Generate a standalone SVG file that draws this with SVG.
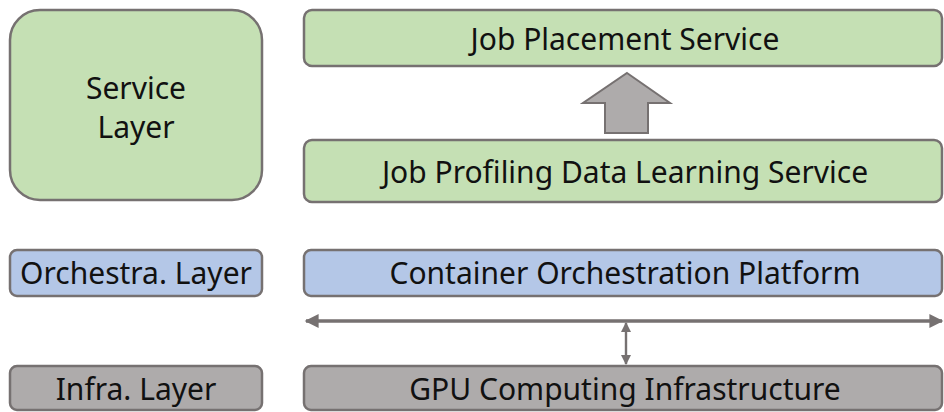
<svg xmlns="http://www.w3.org/2000/svg" width="944" height="412" viewBox="0 0 944 412">
  <defs>
    <style>
      .box { stroke: #767171; stroke-width: 2.5; }
      .svc { fill: #c5e0b4; }
      .orc { fill: #b4c7e7; }
      .inf { fill: #aeabab; }
      .lbl { font-family: "Noto Sans", "Open Sans", sans-serif; font-size: 30px; fill: #111; text-anchor: middle; dominant-baseline: central; }
      .link { stroke: #767171; fill: none; }
    </style>
    <marker id="head" viewBox="0 0 10 10" refX="9" refY="5" markerWidth="4.3" markerHeight="4" orient="auto-start-reverse" markerUnits="strokeWidth">
      <path d="M0,0 L10,5 L0,10 z" fill="#767171"/>
    </marker>
    <marker id="headSmall" viewBox="0 0 10 10" refX="9" refY="5" markerWidth="5" markerHeight="4.2" orient="auto-start-reverse" markerUnits="strokeWidth">
      <path d="M0,0 L10,5 L0,10 z" fill="#767171"/>
    </marker>
  </defs>

  <rect width="944" height="412" fill="#ffffff"/>

  <!-- layer labels -->
  <g id="service-layer">
    <rect class="box svc" x="10" y="10" width="252" height="190" rx="30"/>
    <text class="lbl" x="136" y="87">Service</text>
    <text class="lbl" x="136" y="126">Layer</text>
  </g>
  <g id="orchestra-layer">
    <rect class="box orc" x="10" y="250" width="252" height="46" rx="7"/>
    <text class="lbl" x="136" y="272">Orchestra. Layer</text>
  </g>
  <g id="infra-layer">
    <rect class="box inf" x="10" y="366" width="252" height="44" rx="7"/>
    <text class="lbl" x="136" y="388">Infra. Layer</text>
  </g>

  <!-- components -->
  <g id="job-placement">
    <rect class="box svc" x="304" y="10" width="638" height="56" rx="8"/>
    <text class="lbl" x="625" y="38">Job Placement Service</text>
  </g>
  <g id="job-profiling">
    <rect class="box svc" x="304" y="140" width="638" height="62" rx="8"/>
    <text class="lbl" x="625" y="171">Job Profiling Data Learning Service</text>
  </g>
  <g id="container-orchestration">
    <rect class="box orc" x="304" y="250" width="638" height="46" rx="7"/>
    <text class="lbl" x="625" y="272">Container Orchestration Platform</text>
  </g>
  <g id="gpu-infra">
    <rect class="box inf" x="304" y="366" width="638" height="44" rx="7"/>
    <text class="lbl" x="625" y="388">GPU Computing Infrastructure</text>
  </g>

  <!-- connectors -->
  <g id="connectors">
    <path d="M627,73 L670,103 L648,103 L648,133 L605,133 L605,103 L583,103 Z" fill="#aeabab" stroke="#767171" stroke-width="2"/>
    <line class="link" x1="306" y1="321" x2="942" y2="321" stroke-width="3.5" marker-start="url(#head)" marker-end="url(#head)"/>
    <line class="link" x1="626" y1="323" x2="626" y2="364" stroke-width="2.4" marker-start="url(#headSmall)" marker-end="url(#headSmall)"/>
  </g>
</svg>
